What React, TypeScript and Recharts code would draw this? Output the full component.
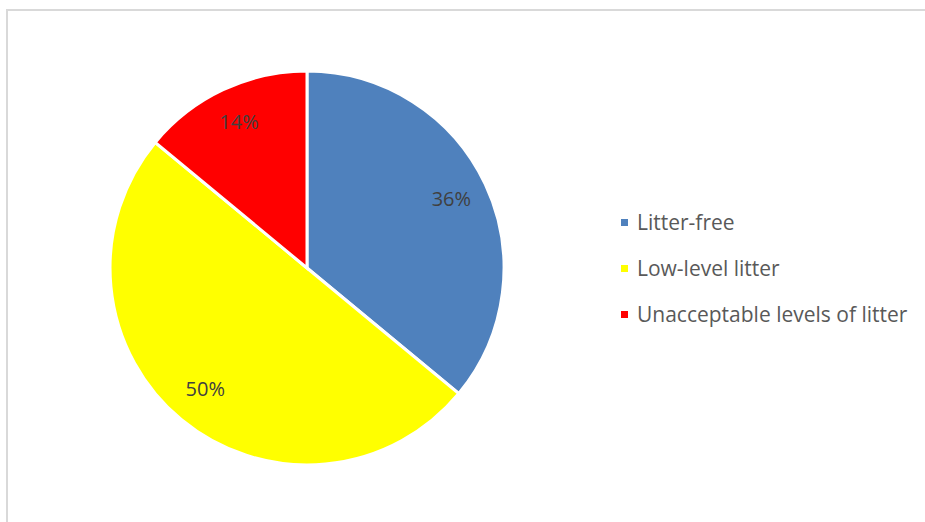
import { PieChart, Pie, Cell, Legend } from 'recharts';

const categories = ['Litter-free', 'Low-level litter', 'Unacceptable levels of litter'];
const shares = [36, 50, 14];
const COLORS = ['#4f81bd', '#ffff00', '#ff0000'];

const data = categories.map((name, i) => ({ name, value: shares[i] }));

const FONT = '"Open Sans", Lato, sans-serif';
const RADIAN = Math.PI / 180;

const renderLabel = ({ cx, cy, midAngle, outerRadius, value }: any) => {
  const r = outerRadius * 0.81;
  const x = cx + r * Math.cos(-midAngle * RADIAN);
  const y = cy + r * Math.sin(-midAngle * RADIAN) - 2;
  return (
    <text
      x={x}
      y={y}
      fill="#404040"
      fontSize={20}
      fontFamily={FONT}
      textAnchor="middle"
      dominantBaseline="central"
    >
      {`${value}%`}
    </text>
  );
};

const renderLegend = () => (
  <div style={{ fontFamily: FONT }}>
    {data.map((d, i) => (
      <div key={d.name} style={{ display: 'flex', alignItems: 'center', height: 46 }}>
        <span style={{ width: 7, height: 7, background: COLORS[i], marginRight: 9, display: 'inline-block', flexShrink: 0 }} />
        <span style={{ color: '#595959', fontSize: 21, whiteSpace: 'nowrap' }}>{d.name}</span>
      </div>
    ))}
  </div>
);

export default function App() {
  return (
    <div style={{ position: 'absolute', left: 0, top: 0, width: 925, height: 522, overflow: 'hidden', background: '#fff' }}>
      <div
        style={{
          position: 'absolute',
          left: 6,
          top: 9,
          width: 940,
          height: 540,
          border: '2px solid #d9d9d9',
          boxSizing: 'border-box',
        }}
      />
      <PieChart
        width={925}
        height={522}
        margin={{ top: 0, right: 0, bottom: 0, left: 0 }}
        style={{ position: 'absolute', left: 0, top: 0 }}
      >
        <Pie
          data={data}
          dataKey="value"
          nameKey="name"
          cx={307}
          cy={268}
          outerRadius={197}
          startAngle={90}
          endAngle={-270}
          stroke="#ffffff"
          strokeWidth={3}
          label={renderLabel}
          labelLine={false}
          isAnimationActive={false}
        >
          {data.map((entry, index) => (
            <Cell key={`cell-${index}`} fill={COLORS[index]} />
          ))}
        </Pie>
        <Legend
          content={renderLegend}
          wrapperStyle={{ position: 'absolute', left: 621, top: 199, width: 300 }}
        />
      </PieChart>
    </div>
  );
}
